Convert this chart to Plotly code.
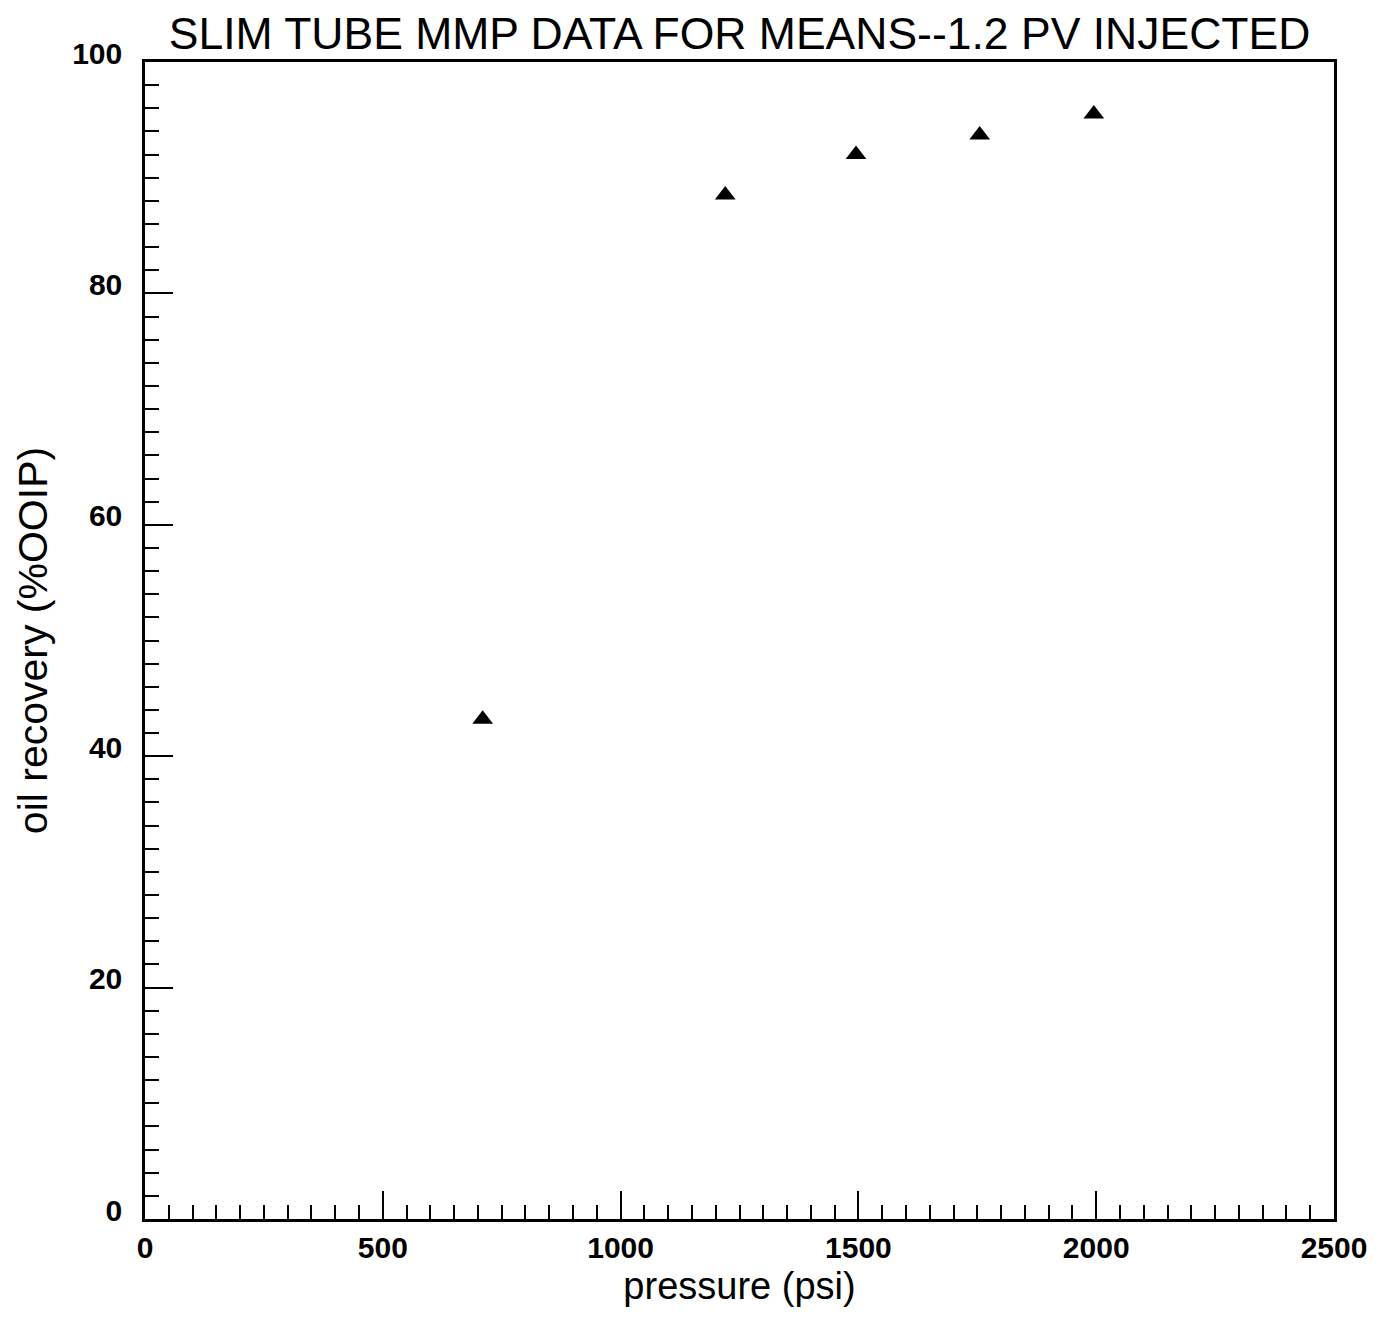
import plotly.graph_objects as go

pressure_psi = [710, 1220, 1495, 1755, 1995]
oil_recovery = [43.2, 88.5, 92.0, 93.7, 95.5]

title_text = "SLIM TUBE MMP DATA FOR MEANS--1.2 PV INJECTED"
x_title = "pressure (psi)"
y_title = "oil recovery (%OOIP)"

FONT = "Liberation Sans, Arial, sans-serif"

fig = go.Figure()
fig.add_trace(go.Scatter(
    x=pressure_psi, y=oil_recovery, mode="markers",
    marker=dict(symbol="triangle-up", size=18, color="black"),
    showlegend=False,
))

fig.update_layout(
    width=1393, height=1320,
    margin=dict(l=145, r=59, t=62, b=101),
    paper_bgcolor="white", plot_bgcolor="white",
    font=dict(family=FONT, color="black"),
    title=dict(text=title_text, x=0.5, xref="paper", y=1 - 33 / 1320,
               yref="container", xanchor="center", yanchor="middle",
               font=dict(size=44.5, family=FONT, color="black")),
)

fig.update_xaxes(
    range=[0, 2500], dtick=500, tick0=0,
    showgrid=False, zeroline=False,
    showline=True, linecolor="black", linewidth=2.5, mirror=True,
    ticks="inside", ticklen=28, tickwidth=2, tickcolor="black",
    minor=dict(dtick=50, ticks="inside", ticklen=14, tickwidth=2, tickcolor="black", showgrid=False),
    tickfont=dict(size=30, family=FONT, color="black", weight="bold"),
    title=dict(text=x_title, font=dict(size=38, family=FONT, color="black"), standoff=10),
)
fig.update_yaxes(
    range=[0, 100], dtick=20, tick0=0,
    showgrid=False, zeroline=False,
    showline=True, linecolor="black", linewidth=2.5, mirror=True,
    ticks="inside", ticklen=28, tickwidth=2, tickcolor="black",
    minor=dict(dtick=2, ticks="inside", ticklen=14, tickwidth=2, tickcolor="black", showgrid=False),
    tickfont=dict(size=30, family=FONT, color="black", weight="bold"),
    ticklabelshift=-9, ticklabelstandoff=14,
    title=dict(text=y_title, font=dict(size=41, family=FONT, color="black"), standoff=12),
)

fig.write_html("out.html")
